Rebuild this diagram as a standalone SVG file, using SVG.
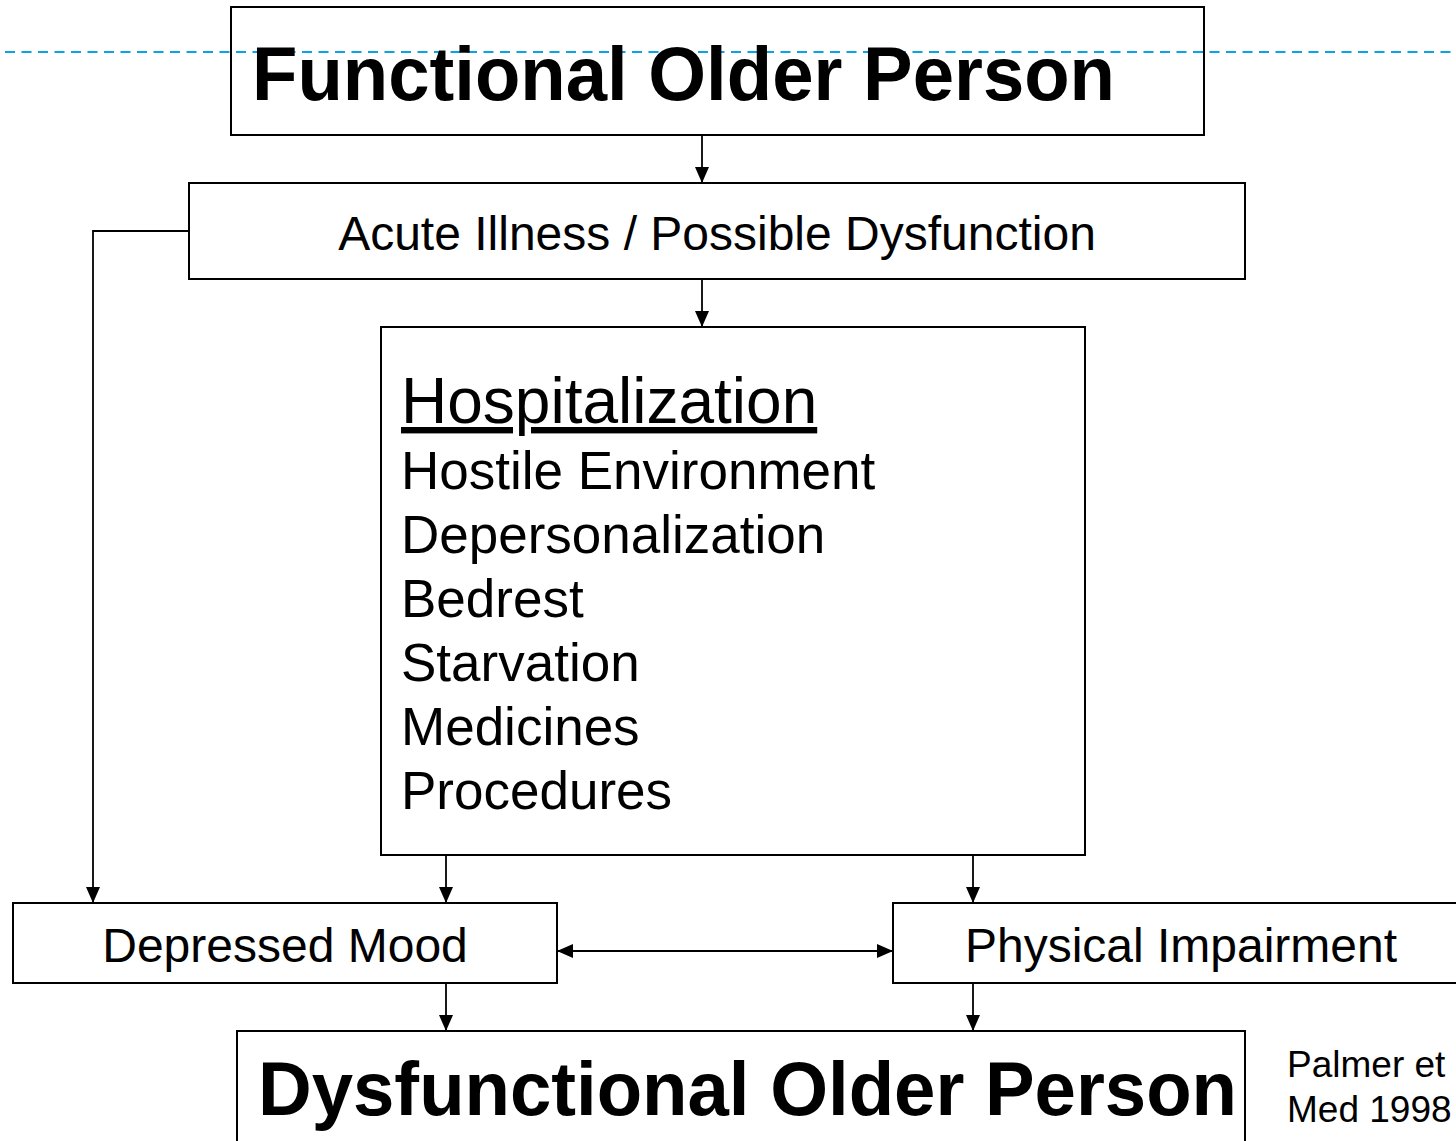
<svg xmlns="http://www.w3.org/2000/svg" width="1456" height="1141" viewBox="0 0 1456 1141">
  <style>
    .box { fill: #ffffff; stroke: #000000; stroke-width: 2; }
    .con { fill: none; stroke: #000000; stroke-width: 1.8; }
    .t { font-family: "Liberation Sans", Arial, sans-serif; fill: #000000; }
    .big { font-size: 76px; font-weight: bold; }
    .mid { font-size: 48px; }
    .list { font-size: 53px; }
    .ref { font-size: 37px; }
    .guide { stroke: #0ba2e6; stroke-width: 2; stroke-dasharray: 10 6.5; fill: none; }
  </style>
  <defs>
    <marker id="arrow" markerUnits="userSpaceOnUse" markerWidth="16" markerHeight="14" viewBox="0 0 16 14" refX="16" refY="7" orient="auto-start-reverse">
      <path d="M0,0 L16,7 L0,14 Z" fill="#000000"/>
    </marker>
  </defs>
  <rect width="1456" height="1141" fill="#ffffff"/>

  <g id="node-functional">
    <rect class="box" x="231" y="7" width="973" height="128"/>
  </g>
  <line class="guide" x1="5" y1="52" x2="1456" y2="52"/>
  <g id="node-functional-label">
    <text class="t big" x="252" y="100" textLength="863" lengthAdjust="spacingAndGlyphs">Functional Older Person</text>
  </g>

  <g id="node-acute">
    <rect class="box" x="189" y="183" width="1056" height="96"/>
    <text class="t mid" x="717" y="250" text-anchor="middle">Acute Illness / Possible Dysfunction</text>
  </g>

  <g id="node-hospitalization">
    <rect class="box" x="381" y="327" width="704" height="528"/>
    <text class="t" x="401" y="423" font-size="64" text-decoration="underline">Hospitalization</text>
    <text class="t list" x="401" y="489">Hostile Environment</text>
    <text class="t list" x="401" y="553">Depersonalization</text>
    <text class="t list" x="401" y="617">Bedrest</text>
    <text class="t list" x="401" y="681">Starvation</text>
    <text class="t list" x="401" y="745">Medicines</text>
    <text class="t list" x="401" y="809">Procedures</text>
  </g>

  <g id="node-depressed">
    <rect class="box" x="13" y="903" width="544" height="80"/>
    <text class="t mid" x="285" y="962" text-anchor="middle">Depressed Mood</text>
  </g>

  <g id="node-physical">
    <rect class="box" x="893" y="903" width="576" height="80"/>
    <text class="t mid" x="1181" y="962" text-anchor="middle">Physical Impairment</text>
  </g>

  <g id="node-dysfunctional">
    <rect class="box" x="237" y="1031" width="1008" height="130"/>
    <text class="t big" x="258" y="1115" textLength="979" lengthAdjust="spacingAndGlyphs">Dysfunctional Older Person</text>
  </g>

  <g id="note-palmer">
    <text class="t ref" x="1287" y="1077">Palmer et</text>
    <text class="t ref" x="1287" y="1122">Med 1998</text>
  </g>

  <g id="connectors">
    <line class="con" x1="702" y1="135" x2="702" y2="183" marker-end="url(#arrow)"/>
    <line class="con" x1="702" y1="279" x2="702" y2="327" marker-end="url(#arrow)"/>
    <polyline class="con" points="189,231 93,231 93,903" marker-end="url(#arrow)"/>
    <line class="con" x1="446" y1="855" x2="446" y2="903" marker-end="url(#arrow)"/>
    <line class="con" x1="973" y1="855" x2="973" y2="903" marker-end="url(#arrow)"/>
    <line class="con" x1="557" y1="951" x2="893" y2="951" marker-start="url(#arrow)" marker-end="url(#arrow)"/>
    <line class="con" x1="446" y1="983" x2="446" y2="1031" marker-end="url(#arrow)"/>
    <line class="con" x1="973" y1="983" x2="973" y2="1031" marker-end="url(#arrow)"/>
  </g>
</svg>
